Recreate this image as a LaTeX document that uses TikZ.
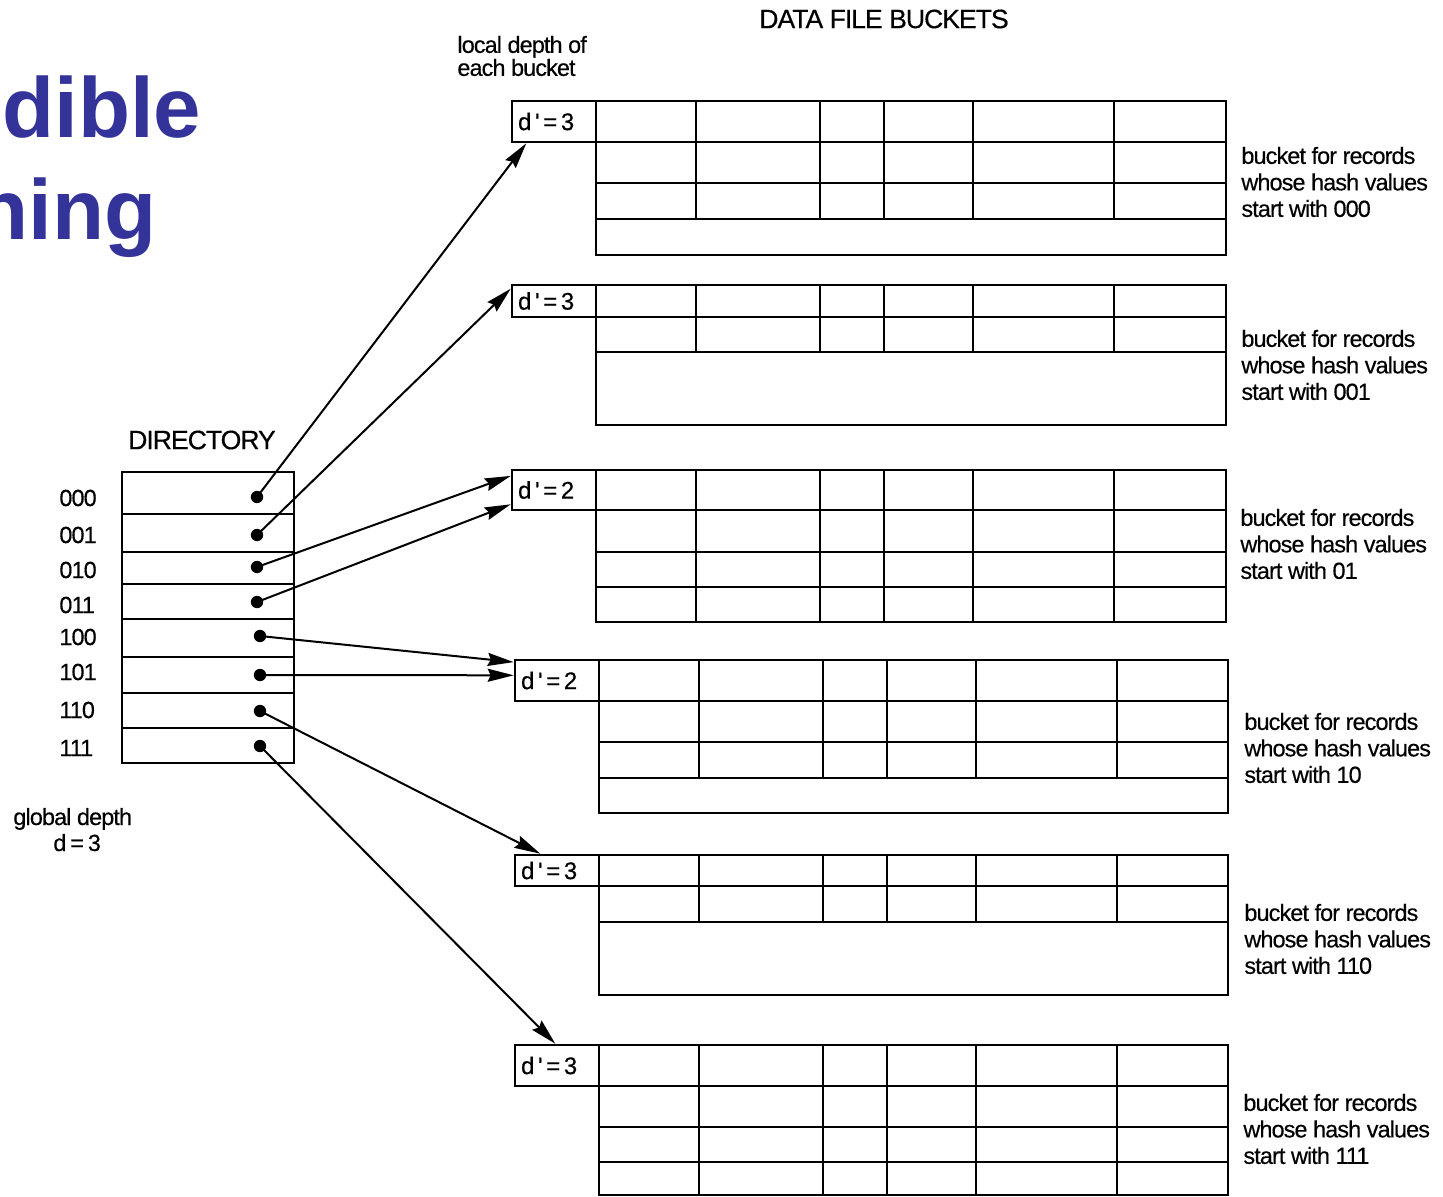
\documentclass[tikz,border=0pt]{standalone}
\usepackage{fontspec}
\setmainfont{Liberation Sans}
\newfontfamily\hv{Liberation Sans}[LetterSpace=-3.8,FakeBold=0.4]
\newfontfamily\lb{Liberation Sans}[FakeBold=0.4]
\newfontfamily\ttl{Liberation Sans}
\usetikzlibrary{arrows.meta,fit}
\definecolor{titleblue}{RGB}{51,51,153}
\newcommand\cols{}
\newcommand\drawbucket[9]{%
  \draw[gridline] (#3,#5) rectangle (#4,#9);
  \foreach \yy in {#7} \draw[gridline] (#3,\yy) -- (#4,\yy);
  \foreach \xx in \cols \draw[gridline] (\xx,#5) -- (\xx,#8);
  \node[frame,fit={(#2,#5)(#3,#6)}] (#1) {};
}
\begin{document}
\begin{tikzpicture}[x=0.5pt,y=-0.5pt,
  gridline/.style={line width=1.3pt},
  frame/.style={draw,line width=1.3pt,inner sep=0pt},
  arr/.style={line width=1pt,-{Stealth[length=13pt,width=6.5pt,inset=1.5pt]}},
  dot/.style={circle,fill=black,inner sep=0pt,minimum size=6.2pt},
  body/.style={font=\hv\fontsize{11.7}{13.25}\selectfont,inner sep=0pt},
  head/.style={font=\hv\fontsize{13.3}{15}\selectfont,inner sep=0pt},
  lbltext/.style={font=\lb\fontsize{12}{13}\selectfont,inner sep=0pt,anchor=west},
  ttlfont/.style={font=\ttl\bfseries\fontsize{42.6}{48}\selectfont,text=titleblue,inner sep=0pt,anchor=base west},
]
\useasboundingbox (0,0) rectangle (1443,1197);
\clip (0,0) rectangle (1443,1197);

% title fragments
\node[ttlfont] (tt1) at (2,138) {dible};
\node[ttlfont] (tt2) at (-24,240) {hing};

% headings
\node[head] (dfb) at (884,19) {DATA FILE BUCKETS};
\node[head] (dirt) at (202,440) {DIRECTORY};
\node[body,align=left,anchor=west,font=\hv\fontsize{11.7}{11.5}\selectfont] (ld) at (457,56) {local depth of\\each bucket};
\node[body,anchor=base west] (gd1) at (13,825) {global depth};
\node[body,anchor=base west] (gd2) at (53,851) {d\,=\,3};

% buckets
\renewcommand\cols{696,820,884,973,1114}
\drawbucket{lab1}{512}{596}{1226}{101}{142}{142,183,219}{219}{255}
\drawbucket{lab2}{512}{596}{1226}{285}{317}{317,352}{352}{425}
\drawbucket{lab3}{512}{596}{1226}{470}{510}{510,552,587}{622}{622}
\renewcommand\cols{699,823,887,976,1117}
\drawbucket{lab4}{515}{599}{1228}{660}{701}{701,742,778}{778}{813}
\drawbucket{lab5}{515}{599}{1228}{855}{886}{886,922}{922}{995}
\drawbucket{lab6}{515}{599}{1228}{1045}{1086}{1086,1127,1162}{1195}{1195}

\node[lbltext] (lab1t) at ([xshift=3.5pt]lab1.west) {d\hspace{1.8pt}\textquotesingle\hspace{1.8pt}=\hspace{1.8pt}3};
\node[lbltext] (lab2t) at ([xshift=3.5pt]lab2.west) {d\hspace{1.8pt}\textquotesingle\hspace{1.8pt}=\hspace{1.8pt}3};
\node[lbltext] (lab3t) at ([xshift=3.5pt]lab3.west) {d\hspace{1.8pt}\textquotesingle\hspace{1.8pt}=\hspace{1.8pt}2};
\node[lbltext] (lab4t) at ([xshift=3.5pt]lab4.west) {d\hspace{1.8pt}\textquotesingle\hspace{1.8pt}=\hspace{1.8pt}2};
\node[lbltext] (lab5t) at ([xshift=3.5pt]lab5.west) {d\hspace{1.8pt}\textquotesingle\hspace{1.8pt}=\hspace{1.8pt}3};
\node[lbltext] (lab6t) at ([xshift=3.5pt]lab6.west) {d\hspace{1.8pt}\textquotesingle\hspace{1.8pt}=\hspace{1.8pt}3};

% bucket descriptions
\node[body,align=left,anchor=west] (desc1) at (1241,182) {bucket for records\\whose hash values\\start with 000};
\node[body,align=left,anchor=west] (desc2) at (1241,365) {bucket for records\\whose hash values\\start with 001};
\node[body,align=left,anchor=west] (desc3) at (1240,544) {bucket for records\\whose hash values\\start with 01};
\node[body,align=left,anchor=west] (desc4) at (1244,748) {bucket for records\\whose hash values\\start with 10};
\node[body,align=left,anchor=west] (desc5) at (1244,939) {bucket for records\\whose hash values\\start with 110};
\node[body,align=left,anchor=west] (desc6) at (1243,1129) {bucket for records\\whose hash values\\start with 111};

% directory
\node[frame,fit={(122,472)(294,763)}] (dir) {};
\foreach \yy in {514,552,584,619,657,693,728} \draw[gridline] (122,\yy) -- (294,\yy);

\node[body,anchor=west] (k000) at (59,498) {000};
\node[body,anchor=west] (k001) at (59,535) {001};
\node[body,anchor=west] (k010) at (59,570) {010};
\node[body,anchor=west] (k011) at (59,605) {011};
\node[body,anchor=west] (k100) at (59,637) {100};
\node[body,anchor=west] (k101) at (59,672) {101};
\node[body,anchor=west] (k110) at (59,710) {110};
\node[body,anchor=west] (k111) at (59,748) {111};

\node[dot] (p000) at (257,497) {};
\node[dot] (p001) at (257,535) {};
\node[dot] (p010) at (257,567) {};
\node[dot] (p011) at (257,602) {};
\node[dot] (p100) at (260,636) {};
\node[dot] (p101) at (260,675) {};
\node[dot] (p110) at (260,711) {};
\node[dot] (p111) at (260,746) {};

% pointers
\draw[arr] (p000.center) -- ([xshift=7.8pt]lab1.south west);
\draw[arr] (p001.center) -- ([yshift=-2.5pt]lab2.north west);
\draw[arr] (p010.center) -- ([yshift=-3.6pt]lab3.north west);
\draw[arr] (p011.center) -- ([yshift=3.5pt]lab3.south west);
\draw[arr] (p100.center) -- ([yshift=-1.7pt]lab4.north west);
\draw[arr] (p101.center) -- ([yshift=-8.3pt]lab4.north west);
\draw[arr] (p110.center) -- ([xshift=13.3pt]lab5.north west);
\draw[arr] (p111.center) -- ([xshift=20.8pt]lab6.north west);
\end{tikzpicture}
\end{document}
